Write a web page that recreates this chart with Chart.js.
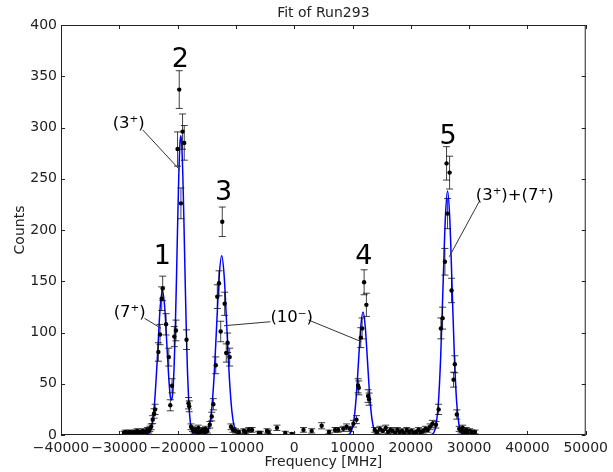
<!DOCTYPE html>
<html>
<head>
<meta charset="utf-8">
<script src="https://cdn.jsdelivr.net/npm/chart.js@4.4.0/dist/chart.umd.min.js"></script>
<style>
    html, body { margin: 0; padding: 0; background: #fff; }
    canvas { display: block; }
</style>
</head>
<body>
<canvas id="fit" width="613" height="472"></canvas>
<script>
// ===== Run293: measured counts vs frequency =====

const freqMHz = [
    -29200, -28950, -28700, -28450, -28200, -27950, -27700, -27450, -27200, -26950, -26700, -26450, -26200, -25950, -25700, -25450, -25200, -24950, -24750,
    -24540, -24270, -24030, -23860, -23300, -23010, -22730, -22560, -21980, -21510, -21250, -20960, -20570, -20280,
    -20010, -19720, -19430, -19150, -18860, -18470, -18130, -18010,
    -17700, -17450, -17200, -16950, -16700, -16450, -16200, -15950, -15700, -15450, -15200, -14900,
    -14480, -14140, -13870, -13460, -13190, -12900, -12610, -12340, -11930, -11650, -11420, -11070, -10850,
    -10500, -10050, -9490, -8640, -8350, -7785, -7220, -6080, -5800, -4670, -4380, -2960, -1530, -400, 1590, 3000, 4710, 5970, 7000, 7560, 8410, 8970, 9550,
    10150, 10675, 10960, 11080, 11420, 11650, 11990, 12380, 12670, 12840,
    13810, 14200, 14700, 15200, 15700, 16100, 16500, 16900, 17300, 17700, 18100, 18500, 18900, 19300, 19700, 20100, 20500, 20900, 21300, 21700, 22100, 22500, 22900, 23300, 23700,
    24310, 24770, 25160, 25450, 25850, 26130, 26300, 26650, 26990, 27330, 27550, 27890, 28300,
    28600, 28900, 29200, 29500, 29800, 30100, 30400, 30700, 31000
];

const counts = [
    2, 3, 1, 2, 3, 2, 1, 3, 2, 4, 2, 3, 1, 4, 3, 2, 5, 4, 6,
    8, 15, 21, 25, 81, 98, 133, 143, 108, 76, 29, 48, 96, 102,
    279, 337, 226, 296, 285, 93, 31, 28,
    8, 6, 4, 5, 3, 7, 2, 4, 5, 3, 6, 4,
    10, 18, 30, 68, 135, 148, 101, 208, 128, 80, 90, 76, 8,
    5, 4, 3, 4, 3, 5, 5, 2, 2, 4, 3, 7, 2, 1, 5, 4, 9, 3, 5, 5, 6, 8, 6,
    11, 15, 48, 46, 95, 104, 149, 127, 38, 35,
    5, 3, 6, 4, 7, 3, 5, 4, 2, 5, 3, 4, 2, 5, 3, 4, 2, 3, 5, 3, 4, 6, 5, 8, 11,
    10, 25, 104, 114, 169, 265, 216, 256, 141, 54, 69, 20, 6,
    4, 7, 3, 5, 2, 4, 3, 2, 3
];

const countErr = [
    1.6, 1.8, 1.2, 1.6, 1.8, 1.6, 1.2, 1.8, 1.6, 2.1, 1.6, 1.8, 1.2, 2.1, 1.8, 1.6, 2.3, 2.1, 2.5,
    2.8, 3.9, 4.6, 5, 9, 9.9, 11.5, 12, 10.4, 8.7, 5.4, 6.9, 9.8, 10.1,
    16.7, 18.4, 15, 17.2, 16.9, 9.6, 5.6, 5.3,
    2.8, 2.5, 2.1, 2.3, 1.8, 2.6, 1.6, 2.1, 2.3, 1.8, 2.5, 2.1,
    3.2, 4.2, 5.5, 8.2, 11.6, 12.2, 10, 14.4, 11.3, 8.9, 9.5, 8.7, 2.8,
    2.3, 2.1, 1.8, 2.1, 1.8, 2.3, 2.3, 1.6, 1.6, 2.1, 1.8, 2.6, 1.6, 1.2, 2.3, 2.1, 3, 1.8, 2.3, 2.3, 2.5, 2.8, 2.5,
    3.3, 3.9, 6.9, 6.8, 9.7, 10.2, 12.2, 11.3, 6.2, 5.9,
    2.3, 1.8, 2.5, 2.1, 2.6, 1.8, 2.3, 2.1, 1.6, 2.3, 1.8, 2.1, 1.6, 2.3, 1.8, 2.1, 1.6, 1.8, 2.3, 1.8, 2.1, 2.5, 2.3, 2.8, 3.3,
    3.2, 5, 10.2, 10.7, 13, 16.3, 14.7, 16, 11.9, 7.3, 8.3, 4.5, 2.5,
    2.1, 2.6, 1.8, 2.3, 1.6, 2.1, 1.8, 1.6, 1.8
];

// fitted line, sampled
const fitFreq = [
    -40000, -26000, -25500, -25000, -24500, -24000, -23500, -23000, -22600, -22200, -21800, -21400, -21200, -21000,
    -20800, -20600, -20400, -20200, -20000, -19800, -19600, -19450, -19300, -19100, -18900, -18700, -18500, -18300,
    -18100, -17900, -17700, -17400, -17000, -16500,
    -15485, -15050, -14615, -14180, -13745, -13310, -12875, -12440, -12005, -11570, -11135, -10700, -10265, -9830, -9395, -8900,
    8700, 9140, 9520, 9900, 10280, 10660, 11040, 11420, 11800, 12180, 12560, 12940, 13320, 13700, 14080, 14460, 14900,
    23200, 23570, 23960, 24350, 24740, 25130, 25520, 25910, 26300, 26690, 27080, 27470, 27860, 28250, 28640, 29030, 29500,
    41000
];

const fitCounts = [
    0, 0, 0.1, 1.2, 7.3, 28.2, 72.4, 123.6, 141, 123.7, 83.7, 46.4, 36.0, 34.2,
    43.6, 66.3, 103, 151, 204.5, 252.6, 284.3, 292, 284.3, 252.6, 204, 150, 100.4, 61,
    33.8, 17, 7.8, 2.0, 0.2, 0,
    0.4, 1.9, 7.7, 23.7, 56.8, 106.1, 154.4, 175, 154.4, 106.1, 56.8, 23.7, 7.7, 1.9, 0.4, 0,
    0, 0.3, 1.3, 5.3, 16.2, 39.0, 72.8, 105.9, 120, 105.9, 72.8, 39.0, 16.2, 5.3, 1.3, 0.3, 0,
    0, 0.5, 2.6, 10.4, 32.2, 77.3, 144.3, 210, 238, 210, 144.3, 77.3, 32.2, 10.4, 2.6, 0.5, 0,
    0
];

const xTickValues = [-40000, -30000, -20000, -10000, 0, 10000, 20000, 30000, 40000, 50000];
const yTickValues = [0, 50, 100, 150, 200, 250, 300, 350, 400];

const peakTags = ['1', '2', '3', '4', '5'];
const stateTags = ['(3\u207A)', '(7\u207A)', '(10\u207B)', '(3\u207A)+(7\u207A)'];

// ===== Annotation placement (data units) =====

const peakTagAt = [[-22614, 167], [-19546, 359], [-12098, 229], [11936, 167], [26391, 284]];
const stateTagAt = [[-31137, 299.5], [-30966, 115], [-4085, 110], [31129, 229]];
const leaderLines = [
    [[-25972, 297.6], [-19597, 258.5]],
    [[-25682, 113.9], [-22836, 104.1]],
    [[-4086, 110.5], [-12046, 106.6]],
    [[2443, 112.2], [11528, 91.0]],
    [[31709, 227.6], [26595, 173.9]]
];

const FONT = "'DejaVu Sans', sans-serif";
const INK = '#222';

const fmtTick = v => (v < 0 ? '\u2212' + Math.abs(v) : String(v));

// vertical error bars with caps, under the markers
const errorBars = {
    id: 'errorBars',
    afterDatasetsDraw(chart) {
        const { ctx, chartArea, scales: { x, y } } = chart;
        ctx.save();
        ctx.beginPath();
        ctx.rect(chartArea.left, chartArea.top, chartArea.width, chartArea.height);
        ctx.clip();
        ctx.strokeStyle = 'rgba(0,0,0,0.75)';
        ctx.lineWidth = 1;
        ctx.beginPath();
        freqMHz.forEach((f, i) => {
            const px = x.getPixelForValue(f);
            const hi = y.getPixelForValue(counts[i] + countErr[i]);
            const lo = y.getPixelForValue(counts[i] - countErr[i]);
            ctx.moveTo(px, hi); ctx.lineTo(px, lo);
            ctx.moveTo(px - 3.5, hi); ctx.lineTo(px + 3.5, hi);
            ctx.moveTo(px - 3.5, lo); ctx.lineTo(px + 3.5, lo);
        });
        ctx.stroke();
        ctx.restore();
    }
};

// box frame, inward ticks on all four sides, titles, peak annotations
const frameAndText = {
    id: 'frameAndText',
    afterDraw(chart) {
        const { ctx, chartArea: a, scales: { x, y } } = chart;
        const tick = 4;
        ctx.save();
        ctx.strokeStyle = INK;
        ctx.lineWidth = 1;
        ctx.strokeRect(a.left + 0.5, a.top + 0.5, a.width - 1, a.height - 1);

        ctx.beginPath();
        x.ticks.forEach(t => {
            const px = Math.round(x.getPixelForValue(t.value)) + 0.5;
            ctx.moveTo(px, a.bottom); ctx.lineTo(px, a.bottom - tick);
            ctx.moveTo(px, a.top); ctx.lineTo(px, a.top + tick);
        });
        y.ticks.forEach(t => {
            const py = Math.round(y.getPixelForValue(t.value)) + 0.5;
            ctx.moveTo(a.left, py); ctx.lineTo(a.left + tick, py);
            ctx.moveTo(a.right, py); ctx.lineTo(a.right - tick, py);
        });
        ctx.stroke();

        // titles
        ctx.fillStyle = INK;
        ctx.font = '14px ' + FONT;
        ctx.textAlign = 'center';
        ctx.textBaseline = 'alphabetic';
        ctx.fillText('Fit of Run293', (a.left + a.right) / 2, a.top - 8);
        ctx.textBaseline = 'middle';
        ctx.fillText('Frequency [MHz]', (a.left + a.right) / 2, 462);
        ctx.save();
        ctx.translate(20, (a.top + a.bottom) / 2);
        ctx.rotate(-Math.PI / 2);
        ctx.fillText('Counts', 0, 0);
        ctx.restore();

        // leader lines
        ctx.strokeStyle = '#333';
        ctx.lineWidth = 1;
        ctx.beginPath();
        leaderLines.forEach(([p, q]) => {
            ctx.moveTo(x.getPixelForValue(p[0]), y.getPixelForValue(p[1]));
            ctx.lineTo(x.getPixelForValue(q[0]), y.getPixelForValue(q[1]));
        });
        ctx.stroke();

        // peak numbers
        ctx.fillStyle = '#000';
        ctx.font = '27px ' + FONT;
        ctx.textAlign = 'center';
        ctx.textBaseline = 'alphabetic';
        peakTags.forEach((t, i) => {
            ctx.fillText(t, x.getPixelForValue(peakTagAt[i][0]), y.getPixelForValue(peakTagAt[i][1]));
        });

        // spin assignments
        ctx.font = '16.5px ' + FONT;
        ctx.textAlign = 'left';
        stateTags.forEach((t, i) => {
            ctx.fillText(t, x.getPixelForValue(stateTagAt[i][0]), y.getPixelForValue(stateTagAt[i][1]));
        });
        ctx.restore();
    }
};

new Chart(document.getElementById('fit'), {
    type: 'scatter',
    data: {
        datasets: [
            {
                label: 'data',
                data: freqMHz.map((f, i) => ({ x: f, y: counts[i] })),
                pointRadius: 2.2,
                pointBackgroundColor: '#000',
                pointBorderWidth: 0,
                showLine: false
            },
            {
                label: 'fit',
                data: fitFreq.map((f, i) => ({ x: f, y: fitCounts[i] })),
                showLine: true,
                pointRadius: 0,
                borderColor: '#0000ff',
                borderWidth: 1.5,
                cubicInterpolationMode: 'monotone'
            }
        ]
    },
    options: {
        responsive: false,
        animation: false,
        devicePixelRatio: 1,
        layout: { padding: { left: 0, right: 24, top: 25, bottom: 0 } },
        plugins: {
            legend: { display: false },
            tooltip: { enabled: false }
        },
        scales: {
            x: {
                type: 'linear',
                min: -40000,
                max: 50000,
                afterBuildTicks: s => { s.ticks = xTickValues.map(v => ({ value: v })); },
                afterFit: s => { s.height = 37; },
                grid: { display: false, drawTicks: false },
                border: { display: false },
                ticks: {
                    autoSkip: false,
                    maxRotation: 0,
                    minRotation: 0,
                    padding: 5,
                    color: INK,
                    font: { family: FONT, size: 14 },
                    callback: fmtTick
                }
            },
            y: {
                type: 'linear',
                min: 0,
                max: 400,
                afterBuildTicks: s => { s.ticks = yTickValues.map(v => ({ value: v })); },
                afterFit: s => { s.width = 61; },
                grid: { display: false, drawTicks: false },
                border: { display: false },
                ticks: {
                    padding: 4,
                    color: INK,
                    font: { family: FONT, size: 14 },
                    callback: fmtTick
                }
            }
        }
    },
    plugins: [errorBars, frameAndText]
});
</script>
</body>
</html>
